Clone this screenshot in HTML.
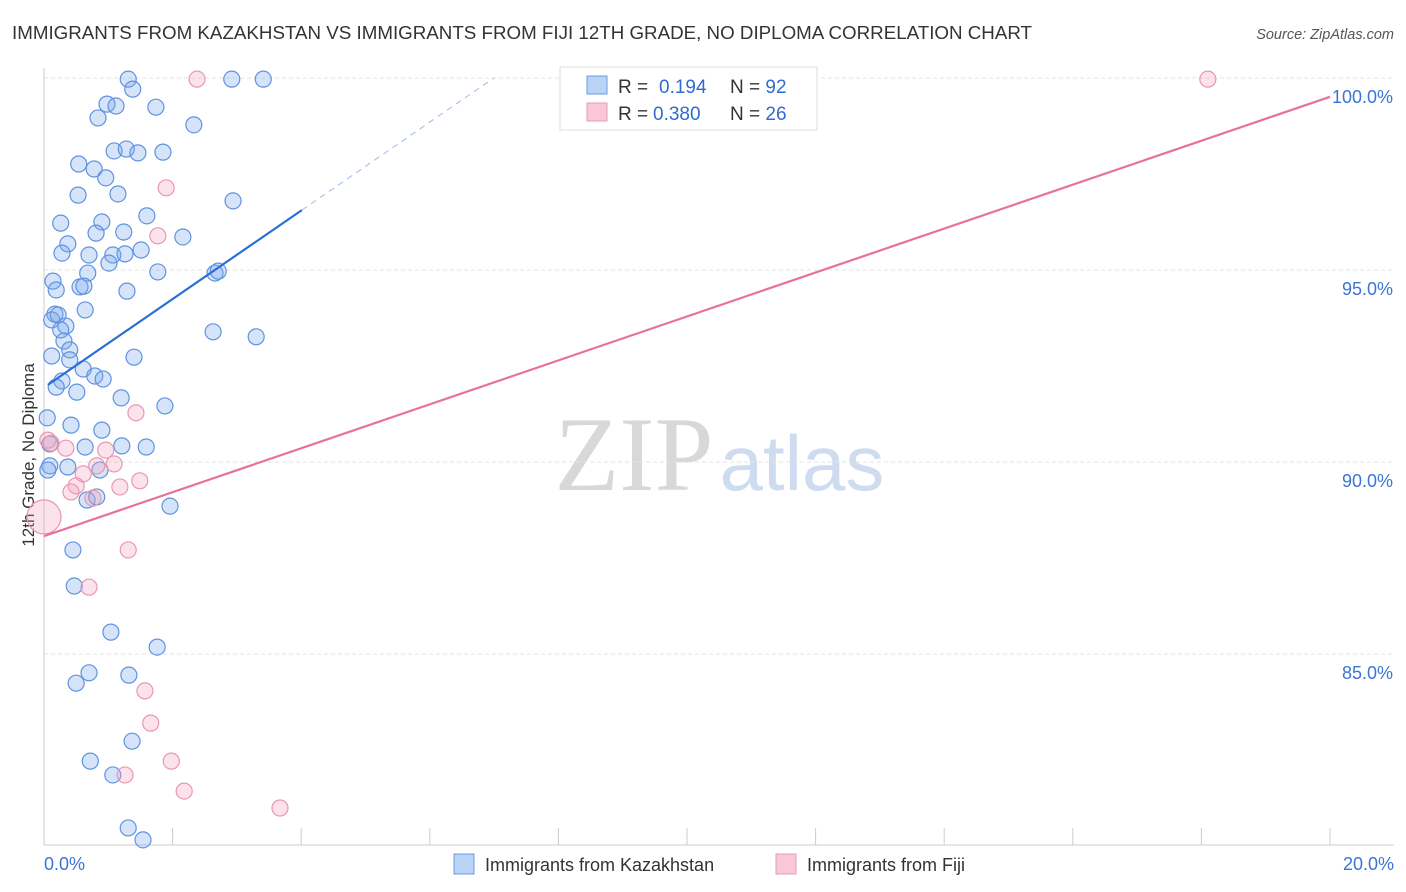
<!DOCTYPE html>
<html><head><meta charset="utf-8"><style>
body{margin:0;background:#fff;font-family:"Liberation Sans",sans-serif;}
svg{display:block}
</style></head><body>
<svg id="chart" width="1406" height="892" viewBox="0 0 1406 892">
<text x="12" y="39" font-size="18.7" fill="#333" textLength="1020" lengthAdjust="spacingAndGlyphs">IMMIGRANTS FROM KAZAKHSTAN VS IMMIGRANTS FROM FIJI 12TH GRADE, NO DIPLOMA CORRELATION CHART</text>
<text x="1394" y="39" font-size="14.5" fill="#555" font-style="italic" text-anchor="end">Source: ZipAtlas.com</text>
<text x="0" y="0" transform="translate(34,455) rotate(-90)" font-size="17" fill="#333" text-anchor="middle">12th Grade, No Diploma</text>
<g>
<text x="634" y="490" font-size="106" fill="#d8d8d8" font-family="Liberation Serif,serif" text-anchor="middle">ZIP</text>
<text x="802" y="490" font-size="78" fill="#cfdcf0" text-anchor="middle">atlas</text>
</g>
<g id="grid"></g><g id="ticks"></g><g id="marks"></g>
<g>
<rect x="560" y="67" width="257" height="63" fill="#fff" stroke="#ddd"/>
<rect x="587" y="76" width="20" height="18" fill="#b9d3f5" stroke="#6a9be0"/>
<text x="618" y="93" font-size="19" fill="#333">R =</text>
<text x="659" y="93" font-size="19" fill="#2f6bd0">0.194</text>
<text x="730" y="93" font-size="19" fill="#333">N = <tspan fill="#2f6bd0">92</tspan></text>
<rect x="587" y="103" width="20" height="18" fill="#f9c8d8" stroke="#e89ab5"/>
<text x="618" y="120" font-size="19" fill="#333">R =</text>
<text x="653" y="120" font-size="19" fill="#2f6bd0">0.380</text>
<text x="730" y="120" font-size="19" fill="#333">N = <tspan fill="#2f6bd0">26</tspan></text>
</g>
<g>
<rect x="454" y="854" width="20" height="20" fill="#b9d3f5" stroke="#6a9be0"/>
<text x="485" y="871" font-size="18" fill="#333">Immigrants from Kazakhstan</text>
<rect x="776" y="854" width="20" height="20" fill="#f9c8d8" stroke="#e89ab5"/>
<text x="807" y="871" font-size="18" fill="#333">Immigrants from Fiji</text>
</g>
</svg>
<script>
const blueX=[1.31,2.92,3.41,1.38,0.98,1.12,1.74,0.84,2.33,1.09,1.28,1.46,1.85,0.54,0.78,0.96,1.15,0.53,2.94,1.60,0.26,0.90,1.24,0.81,2.16,0.37,1.51,0.28,0.70,1.07,1.26,1.01,0.68,1.77,2.66,2.71,0.14,0.19,0.56,0.62,1.29,0.64,0.17,0.12,0.22,0.34,0.26,0.31,0.40,2.63,3.30,0.12,0.40,1.40,0.61,0.79,0.28,0.92,0.19,0.51,1.20,1.88,0.05,0.42,0.90,0.09,0.64,1.21,1.59,0.37,0.09,0.67,0.82,1.96,0.45,0.47,1.04,1.76,0.50,0.70,1.32,1.37,0.72,1.07,1.31,1.54,0.06,0.87];
const blueY=[99.97,99.97,99.97,99.71,99.32,99.27,99.24,98.96,98.78,98.10,98.15,98.05,98.07,97.76,97.63,97.40,96.98,96.95,96.80,96.41,96.22,96.25,95.99,95.96,95.86,95.68,95.52,95.44,95.39,95.39,95.42,95.18,94.92,94.95,94.92,94.97,94.71,94.48,94.56,94.58,94.45,93.96,93.85,93.70,93.83,93.54,93.44,93.15,92.92,93.39,93.26,92.76,92.66,92.73,92.42,92.24,92.11,92.16,91.95,91.82,91.67,91.46,91.15,90.96,90.83,90.47,90.39,90.42,90.39,89.87,89.90,89.01,89.09,88.85,87.71,86.77,85.57,85.18,84.24,84.51,84.45,82.73,82.21,81.85,80.47,80.16,89.79,89.79];
const pinkX=[2.38,18.10,1.90,1.77,1.43,0.11,0.34,0.96,1.09,0.82,0.61,1.49,0.50,0.42,1.18,0.76,0.00,1.31,0.70,1.57,1.66,1.98,1.26,2.18,3.67,0.06];
const pinkY=[99.97,99.97,97.14,95.89,91.28,90.49,90.36,90.31,89.95,89.90,89.69,89.51,89.38,89.22,89.35,89.06,88.57,87.71,86.74,84.04,83.20,82.21,81.85,81.43,80.99,90.57];
const pinkR=[8,8,8,8,8,8,8,8,8,8,8,8,8,8,8,8,17,8,8,8,8,8,8,8,8,8];
const blueTrend=[91.94,1.152];
const pinkTrend=[88.07,0.572];
const yTicks=[85,90,95,100];
const yTickLabels=["85.0%","90.0%","95.0%","100.0%"];
const xTickLabels=["0.0%","20.0%"];
const NS="http://www.w3.org/2000/svg";
const X=v=>44+v*64.3, Y=v=>78+(100-v)*38.4;
function mk(tag,attrs,parent){const e=document.createElementNS(NS,tag);for(const k in attrs)e.setAttribute(k,attrs[k]);document.getElementById(parent).appendChild(e);return e;}
yTicks.forEach((t,i)=>{
 const l=mk('line',{x1:44,x2:1394,y1:Y(t),y2:Y(t),stroke:'#e3e3e3','stroke-dasharray':'4,3'},'grid');
 
 
 const tx=mk('text',{x:1393,y:Y(t)+25,'font-size':18,fill:'#3b74d4','text-anchor':'end'},'ticks');
 tx.textContent=yTickLabels[i];
 
 
});
const ax=mk('line',{x1:44,x2:44,y1:68,y2:845,stroke:'#ccc'},'ticks');


const bx=mk('line',{x1:44,x2:1394,y1:845,y2:845,stroke:'#ccc'},'ticks');


for(let i=0;i<=10;i++){
 const t=mk('line',{x1:X(i*2),x2:X(i*2),y1:828,y2:845,stroke:'#ccc'},'ticks');
 
 
}
[[0,'start',44],[20,'end',1394]].forEach((d,i)=>{
 const t=mk('text',{x:d[2],y:870,'font-size':18,fill:'#3b74d4','text-anchor':d[1]},'ticks');
 t.textContent=xTickLabels[i];
 
 
});
blueX.forEach((x,i)=>{
 const c=mk('circle',{cx:X(x),cy:Y(blueY[i]),r:8,fill:'rgba(120,165,235,0.3)',stroke:'#5f93e0','stroke-width':1.2},'marks');
 
 
});
pinkX.forEach((x,i)=>{
 const c=mk('circle',{cx:X(x),cy:Y(pinkY[i]),r:pinkR[i],fill:'rgba(245,160,190,0.3)',stroke:'#e897b3','stroke-width':1.2},'marks');
 
 
});
const bx0=0.06,bx1=4.01,bxEnd=(100-blueTrend[0])/blueTrend[1];
const bl=mk('line',{x1:X(bx0),y1:Y(blueTrend[0]+blueTrend[1]*bx0),x2:X(bx1),y2:Y(blueTrend[0]+blueTrend[1]*bx1),stroke:'#2a6fd6','stroke-width':2.2},'marks');


const bd=mk('line',{x1:X(bx1),y1:Y(blueTrend[0]+blueTrend[1]*bx1),x2:X(bxEnd),y2:Y(100),stroke:'#9bbbe8','stroke-width':1,'stroke-dasharray':'6,5'},'marks');


const pl=mk('line',{x1:X(0),y1:Y(pinkTrend[0]),x2:X(20),y2:Y(pinkTrend[0]+pinkTrend[1]*20),stroke:'#e8719a','stroke-width':2.2},'marks');


</script>
</body></html>
